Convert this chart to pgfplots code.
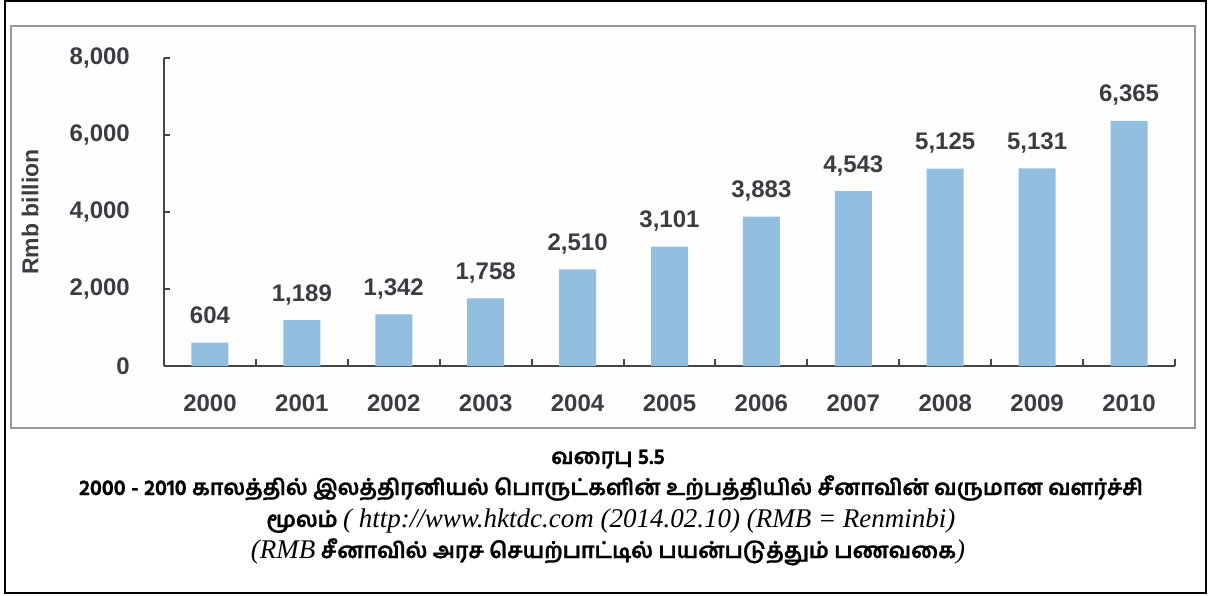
\documentclass[border=0pt]{standalone}
\usepackage{fontspec}
\usepackage{pgfplots}
\pgfplotsset{compat=1.18}
\newfontfamily\chartfont{Liberation Sans}
\newfontfamily\tamilfont[Script=Tamil, BoldFeatures={FakeBold=1}]{Hind Madurai}
\newfontfamily\capserif{Liberation Serif}
\definecolor{barblue}{HTML}{92BFDF}
\definecolor{txtgray}{HTML}{3E3B44}
\definecolor{axgray}{HTML}{454545}
\newcommand{\capit}[1]{{\capserif\mdseries\itshape\fontsize{27}{28}\selectfont #1}}
\begin{document}
\begin{tikzpicture}[x=1pt,y=1pt]
\useasboundingbox (0,0) rectangle (1209,595);
\draw[line width=2pt] (5,2) rectangle (1206,594);
\draw[line width=1.2pt, draw=gray!80, fill=white!99!gray] (11,167) rectangle (1195,569);
\begin{axis}[
  at={(164pt,229pt)}, anchor=south west,
  scale only axis, width=1011pt, height=308pt,
  xmin=-0.5, xmax=10.5, ymin=0, ymax=8000,
  axis lines=left,
  axis line style={-, line width=2.4pt, axgray},
  ybar, bar width=37pt, bar shift=0pt,
  xtick={0,1,2,3,4,5,6,7,8,9,10},
  xticklabels={2000,2001,2002,2003,2004,2005,2006,2007,2008,2009,2010},
  major x tick style={draw=none},
  minor xtick={0.5,1.5,2.5,3.5,4.5,5.5,6.5,7.5,8.5,9.5,10.5},
  minor tick length=7pt,
  major tick length=6pt,
  tick align=inside,
  tick style={line width=2pt, axgray},
  ytick={0,2000,4000,6000,8000},
  scaled y ticks=false,
  /pgf/number format/.cd, 1000 sep={,}, assume math mode=true, /pgfplots/.cd,
  every tick label/.append style={font=\chartfont\bfseries\fontsize{24}{28}\selectfont, text=txtgray},
  yticklabel style={inner sep=0pt, xshift=-34pt},
  xticklabel style={inner sep=0pt, anchor=north, yshift=-29pt},
  ylabel={Rmb billion},
  ylabel style={at={(axis description cs:-0.1325,0.5)}, anchor=center, font=\chartfont\bfseries\fontsize{23}{28}\selectfont, text=txtgray},
  clip=false,
]
\addplot[fill=barblue, draw=none,
  nodes near coords,
  every node near coord/.append style={anchor=base, inner sep=0pt, yshift=19pt, font=\chartfont\bfseries\fontsize{24}{28}\selectfont, text=txtgray}]
  coordinates {(0,604) (1,1189) (2,1342) (3,1758) (4,2510) (5,3101) (6,3883) (7,4543) (8,5125) (9,5131) (10,6365)};
\end{axis}
\node[anchor=base, font=\tamilfont\bfseries\fontsize{21.8}{24}\selectfont] at (608,131) {வரைபு 5.5};
\node[anchor=base, font=\tamilfont\bfseries\fontsize{21.8}{24}\selectfont] at (611,100) {2000 - 2010 காலத்தில் இலத்திரனியல் பொருட்களின் உற்பத்தியில் சீனாவின் வருமான வளர்ச்சி};
\node[anchor=base, font=\tamilfont\bfseries\fontsize{21.8}{24}\selectfont] at (611,68) {மூலம் \capit{( http://www.hktdc.com (2014.02.10) (RMB = Renminbi)}};
\node[anchor=base, font=\tamilfont\bfseries\fontsize{21.8}{24}\selectfont] at (608,37) {\capit{(RMB} சீனாவில் அரச செயற்பாட்டில் பயன்படுத்தும் பணவகை\capit{)}};
\end{tikzpicture}
\end{document}
